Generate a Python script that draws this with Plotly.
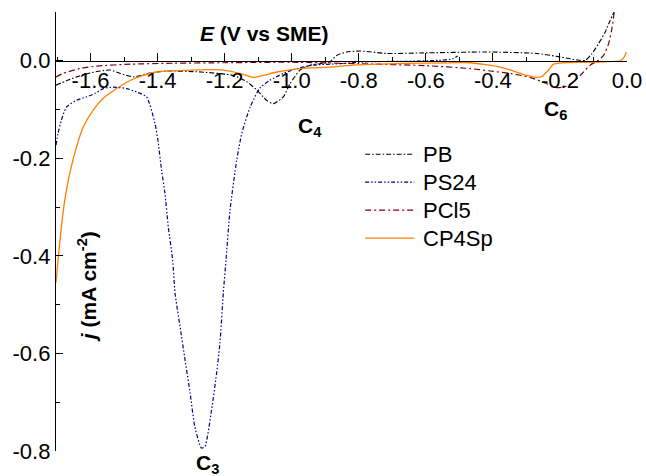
import plotly.graph_objects as go

# ---------------- data ----------------
pb_E = [-1.703, -1.672, -1.642, -1.602, -1.571, -1.541, -1.511, -1.472, -1.422, -1.373,
        -1.271, -1.175, -1.134, -1.104, -1.075, -1.055, -1.025, -1.005, -0.975, -0.945,
        -0.916, -0.886, -0.866, -0.836, -0.796, -0.716, -0.617, -0.418, -0.269, -0.209,
        -0.169, -0.139, -0.124, -0.104, -0.085, -0.065, -0.050, -0.035]
pb_j = [-0.050, -0.041, -0.033, -0.025, -0.021, -0.019, -0.026, -0.033, -0.025, -0.021,
        -0.023, -0.030, -0.043, -0.060, -0.081, -0.088, -0.074, -0.047, -0.019, -0.009,
        -0.006, -0.002, 0.011, 0.018, 0.020, 0.015, 0.016, 0.018, 0.015, 0.009,
        0.004, 0.001, 0.001, 0.015, 0.035, 0.059, 0.083, 0.105]

ps24_E = [-1.703, -1.697, -1.687, -1.672, -1.642, -1.612, -1.587, -1.562, -1.533, -1.493,
          -1.463, -1.433, -1.408, -1.399, -1.388, -1.378, -1.368, -1.355, -1.348, -1.333,
          -1.318, -1.303, -1.289, -1.269, -1.259, -1.239, -1.224, -1.214, -1.204, -1.196,
          -1.184, -1.164, -1.149, -1.124, -1.095, -1.065, -1.025, -0.985, -0.936, -0.856,
          -0.776, -0.650, -0.560, -0.520, -0.505]
ps24_j = [-0.173, -0.149, -0.122, -0.095, -0.081, -0.074, -0.067, -0.057, -0.054, -0.057,
          -0.064, -0.074, -0.128, -0.163, -0.225, -0.272, -0.341, -0.409, -0.476, -0.545,
          -0.614, -0.681, -0.750, -0.794, -0.791, -0.716, -0.640, -0.579, -0.476, -0.409,
          -0.306, -0.204, -0.149, -0.095, -0.056, -0.040, -0.026, -0.016, -0.009, -0.006,
          -0.002, -0.001, 0.001, 0.004, 0.010]

pcl5_E = [-1.703, -1.682, -1.632, -1.582, -1.482, -1.350, -1.200, -1.000, -0.800, -0.600,
          -0.468, -0.408, -0.348, -0.289, -0.239, -0.209, -0.179, -0.159, -0.134, -0.110,
          -0.085, -0.070, -0.055, -0.045, -0.038]
pcl5_j = [-0.033, -0.026, -0.016, -0.011, -0.007, -0.005, -0.004, -0.003, -0.006, -0.010,
          -0.016, -0.021, -0.026, -0.034, -0.047, -0.055, -0.052, -0.043, -0.026, -0.009,
          0.001, 0.011, 0.035, 0.066, 0.100]

cp4sp_E = [-1.703, -1.697, -1.687, -1.677, -1.662, -1.642, -1.622, -1.592, -1.562, -1.522,
           -1.481, -1.443, -1.403, -1.301, -1.204, -1.154, -1.115, -1.085, -1.045, -0.975,
           -0.886, -0.817, -0.617, -0.468, -0.378, -0.339, -0.299, -0.269, -0.254, -0.234,
           -0.219, -0.189, -0.070, -0.020, -0.008, -0.002]
cp4sp_j = [-0.455, -0.409, -0.341, -0.286, -0.231, -0.177, -0.136, -0.101, -0.077, -0.057,
           -0.040, -0.030, -0.023, -0.019, -0.019, -0.026, -0.034, -0.030, -0.023, -0.016,
           -0.013, -0.009, -0.005, -0.004, -0.013, -0.021, -0.030, -0.034, -0.032, -0.019,
           -0.007, -0.004, -0.002, 0.000, 0.008, 0.018]

series_names = ["PB", "PS24", "PCl5", "CP4Sp"]

x_tickvals = [-1.6, -1.4, -1.2, -1.0, -0.8, -0.6, -0.4, -0.2, 0.0]
x_ticktext = ["-1.6", "-1.4", "-1.2", "-1.0", "-0.8", "-0.6", "-0.4", "-0.2", "0.0"]
y_tickvals = [0.0, -0.2, -0.4, -0.6, -0.8]
y_ticktext = ["0.0", "-0.2", "-0.4", "-0.6", "-0.8"]

# ---------------- styling ----------------
W, H = 646, 476
L, R, T, B = 56, 19.3, 11.7, 25
PW, PH = W - L - R, H - T - B
FONT = "Arial, 'Liberation Sans', sans-serif"

colors = ["#000000", "#000080", "#800000", "#FF8000"]
dashes = ["5px,2px,1.5px,2px", "4px,2px,1.5px,2px,1.5px,2px", "6px,3px,2px,3px", "solid"]
widths = [1.1, 1.2, 1.2, 1.3]

def px(xp):
    return (xp - L) / PW

def py(yp):
    return (H - B - yp) / PH

fig = go.Figure()
data = [(pb_E, pb_j), (ps24_E, ps24_j), (pcl5_E, pcl5_j), (cp4sp_E, cp4sp_j)]
for (xs, ys), name, c, d, w in zip(data, series_names, colors, dashes, widths):
    fig.add_trace(go.Scatter(x=xs, y=ys, mode="lines", name=name,
                             line=dict(color=c, dash=d, width=w, shape="spline", smoothing=0.6),
                             showlegend=False, cliponaxis=True))

x_range = [-1.703, 0.0]
y_range = [-0.8, 0.1]

fig.update_layout(
    width=W, height=H,
    margin=dict(l=L, r=R, t=T, b=B, autoexpand=False),
    paper_bgcolor="white", plot_bgcolor="white",
    font=dict(family=FONT, size=22, color="black"),
    xaxis=dict(range=x_range, showgrid=False, zeroline=False,
               showline=True, linecolor="black", linewidth=1.3,
               anchor="free", position=0.8 / 0.9, side="bottom",
               tickmode="array", tickvals=x_tickvals, ticktext=x_ticktext,
               ticks="inside", ticklen=8, tickwidth=1.3, tickcolor="black",
               tickfont=dict(family=FONT, size=22, color="black"),
               minor=dict(tickvals=[-1.7, -1.5, -1.3, -1.1, -0.9, -0.7, -0.5, -0.3, -0.1],
                          ticks="inside", ticklen=4, tickwidth=1.3, tickcolor="black")),
    yaxis=dict(range=y_range, showgrid=False, zeroline=False,
               showline=True, linecolor="black", linewidth=1.3,
               tickmode="array", tickvals=y_tickvals, ticktext=y_ticktext,
               ticks="inside", ticklen=7, tickwidth=1.3, tickcolor="black",
               tickfont=dict(family=FONT, size=22, color="black"),
               minor=dict(tickvals=[0.1, -0.1, -0.3, -0.5, -0.7],
                          ticks="inside", ticklen=4, tickwidth=1.3, tickcolor="black")),
)

ann = []
# axis titles
ann.append(dict(x=px(264), y=py(33), xref="paper", yref="paper", showarrow=False,
                text="<b><i>E</i> (V vs SME)</b>", font=dict(size=21, family=FONT),
                xanchor="center", yanchor="middle"))
ann.append(dict(x=px(87), y=py(287), xref="paper", yref="paper", showarrow=False,
                text="<b><i>j</i> (mA cm<sup>-2</sup>)</b>", textangle=-90,
                font=dict(size=21, family=FONT), xanchor="center", yanchor="middle"))
# peak labels
for txt, xx, yy in [("C<sub>4</sub>", 310, 127), ("C<sub>6</sub>", 555, 110), ("C<sub>3</sub>", 207, 464)]:
    ann.append(dict(x=px(xx), y=py(yy), xref="paper", yref="paper", showarrow=False,
                    text="<b>" + txt + "</b>", font=dict(size=21, family=FONT),
                    xanchor="center", yanchor="middle"))

# manual legend
shapes = []
leg_y = [154, 182, 210, 238]
for name, c, d, w, yy in zip(series_names, colors, dashes, widths, leg_y):
    shapes.append(dict(type="line", xref="paper", yref="paper",
                       x0=px(365), x1=px(414), y0=py(yy), y1=py(yy),
                       line=dict(color=c, dash=d, width=w)))
    ann.append(dict(x=px(421), y=py(yy), xref="paper", yref="paper", showarrow=False,
                    text=name, font=dict(size=22, family=FONT),
                    xanchor="left", yanchor="middle"))

fig.update_layout(annotations=ann, shapes=shapes)
fig.write_html("out.html")
